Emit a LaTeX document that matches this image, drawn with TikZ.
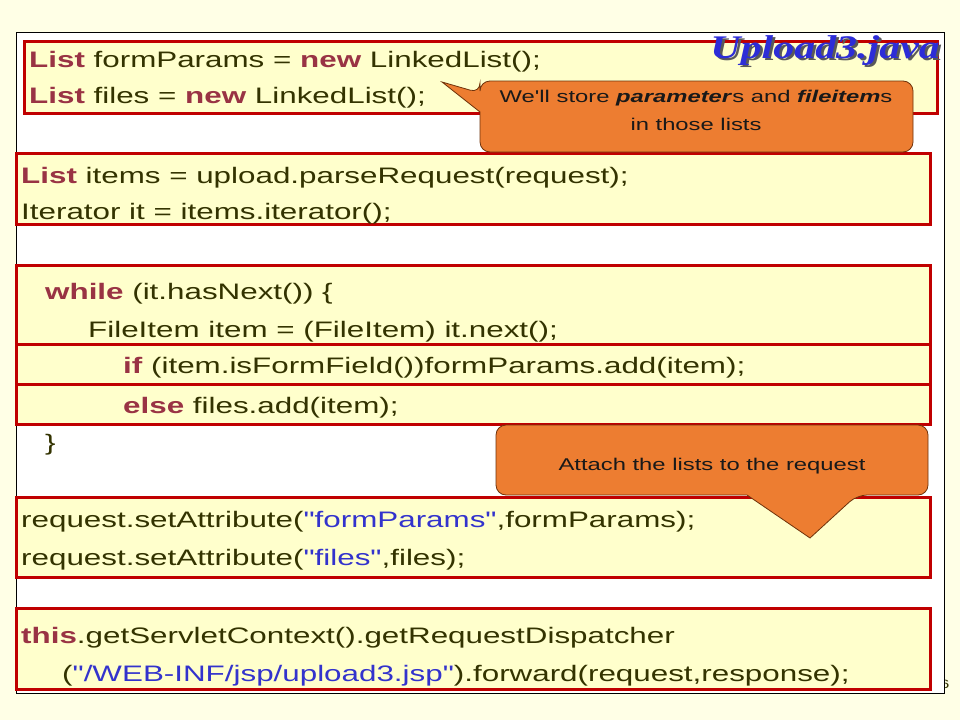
\documentclass[tikz,border=0pt]{standalone}
\usepackage{fontspec}
\setmainfont{Liberation Sans}[FakeStretch=1.4, Ligatures=TeXOff]
\newfontfamily\titlefont{Liberation Serif}[FakeStretch=1.27]
\usepackage{xcolor}
\usepackage{tikz}
\usetikzlibrary{positioning}

\definecolor{bgyellow}{RGB}{255,255,230}
\definecolor{boxfill}{RGB}{255,255,204}
\definecolor{boxred}{RGB}{192,0,0}
\definecolor{kwred}{RGB}{153,51,68}
\definecolor{codetxt}{RGB}{51,51,0}
\definecolor{strblue}{RGB}{51,51,204}
\definecolor{noteorange}{RGB}{237,125,49}
\definecolor{noteline}{RGB}{110,50,10}
\definecolor{titleblue}{RGB}{45,45,215}

\newcommand{\kwd}[1]{\textcolor{kwred}{\textbf{#1}}}
\newcommand{\strg}[1]{\textcolor{strblue}{#1}}

\begin{document}
\begin{tikzpicture}[x=1pt, y=-1pt,
    code/.style={anchor=base west, inner sep=0pt, text=codetxt, font=\fontsize{22.4}{27}\selectfont},
    codebox/.style={draw=boxred, line width=3pt, fill=boxfill},
    note/.style={draw=noteline, line width=0.8pt, fill=noteorange},
    notetext/.style={anchor=base, inner sep=0pt, text=black!90, font=\fontsize{17}{20}\selectfont},
    titletext/.style={anchor=base east, inner sep=0pt, font=\titlefont\bfseries\itshape\fontsize{33}{36}\selectfont}]
        \fill[bgyellow] (0,0) rectangle (960,720);
        \useasboundingbox (0,0) rectangle (960,720);
        \node[anchor=base west, inner sep=0pt, text=codetxt, font=\fontsize{12}{14}\selectfont] (pagenum) at (940,688) {6};

        % slide panel and code boxes
        \draw[fill=white, line width=1pt] (16,32) rectangle (944,693);
        \draw[codebox] (24,41) rectangle (937,113);
        \draw[codebox] (16,153) rectangle (930,224);
        \draw[codebox] (16,265) rectangle (930,344);
        \draw[codebox] (16,344) rectangle (930,384);
        \draw[codebox] (16,384) rectangle (930,424);
        \draw[codebox] (16,497) rectangle (930,577);
        \draw[codebox] (16,608) rectangle (930,689);

        \node[code] (formparams) at (29,67) {\kwd{List} formParams = \kwd{new} LinkedList();};
        \node[code] (files) [below=36pt of formparams.base west, anchor=base west] {\kwd{List} files = \kwd{new} LinkedList();};
        \node[code] (items) at (21,183) {\kwd{List} items = upload.parseRequest(request);};
        \node[code] (iter) [below=36pt of items.base west, anchor=base west] {Iterator it = items.iterator();};
        \node[code] (whileline) at (45,299) {\kwd{while} (it.hasNext()) \{};
        \node[code] (fileitem) at (88,337) {FileItem item = (FileItem) it.next();};
        \node[code] (ifline) at (123,373) {\kwd{if} (item.isFormField())formParams.add(item);};
        \node[code] (elseline) at (123,413) {\kwd{else} files.add(item);};
        \node[code] (closing) at (45,450) {\}};
        \node[code] (setparams) at (21,527) {request.setAttribute(\strg{"formParams"},formParams);};
        \node[code] (setfiles) [below=38pt of setparams.base west, anchor=base west] {request.setAttribute(\strg{"files"},files);};
        \node[code] (dispatch) at (21,643) {\kwd{this}.getServletContext().getRequestDispatcher};
        \node[code] (forward) at (62,681) {(\strg{"/WEB-INF/jsp/upload3.jsp"}).forward(request,response);};

        % callouts
        \draw[note] (442,82) -- (480,112) [rounded corners=10pt] -- (480,152) -- (913,152) -- (913,81) -- (480,81) -- (480,93) [sharp corners] -- cycle;
        \node[notetext] (storenote) at (696,102) {We'll store \textbf{\textit{parameter}}s and \textbf{\textit{fileitem}}s};
        \node[notetext] (storenote2) [below=28pt of storenote.base, anchor=base] {in those lists};
        \draw[note] (810,538) -- (747,495) [rounded corners=10pt] -- (496,495) -- (496,425) -- (928,425) -- (928,495) -- (857,495) [sharp corners] -- cycle;
        \node[notetext] (attachnote) at (712,470) {Attach the lists to the request};

        % title with shadow
        \node[titletext, text=black!65] (titleshadow) at (942.5,60.5) {Upload3.java};
        \node[titletext, text=titleblue] (title) at (940,58) {Upload3.java};
    \end{tikzpicture}
\end{document}
